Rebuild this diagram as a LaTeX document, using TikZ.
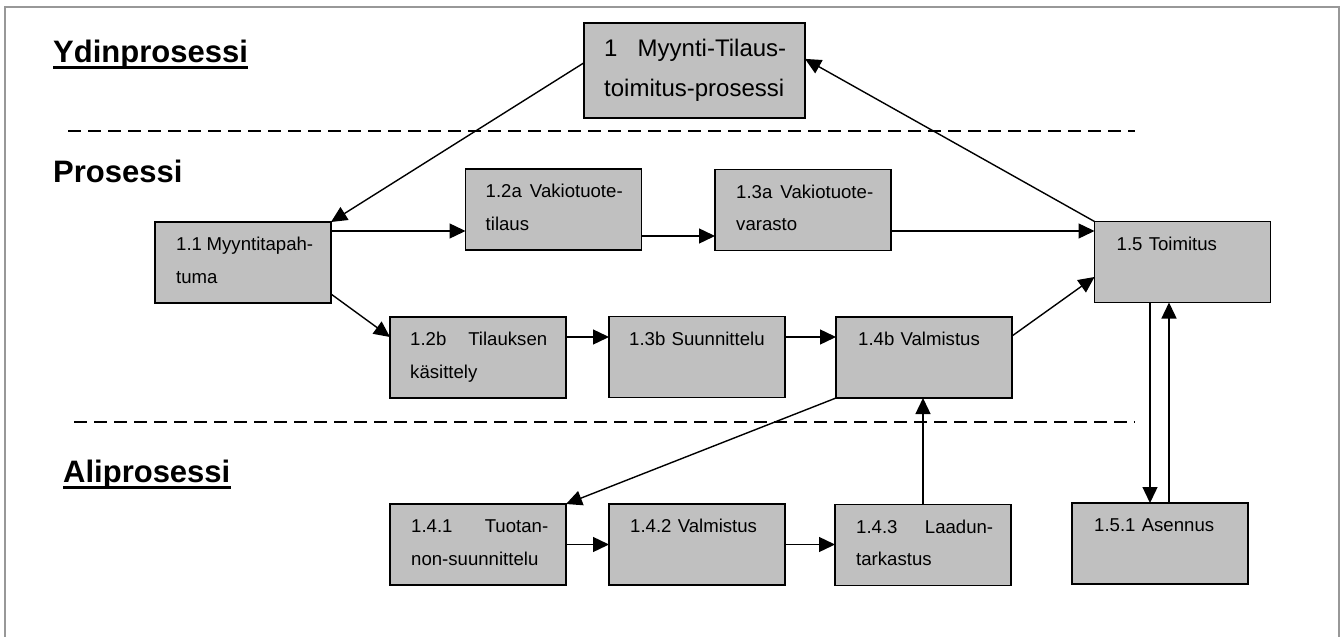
\documentclass[tikz,border=0pt]{standalone}
\usepackage{fontspec}
\setmainfont{Liberation Sans}
\usetikzlibrary{arrows.meta,calc}
\definecolor{boxfill}{HTML}{C0C0C0}
\definecolor{framegray}{HTML}{989898}

\tikzset{
  pbox/.style={draw=black, line width=1.8pt, fill=boxfill,
    minimum width=176pt, minimum height=81pt, inner sep=0pt, outer sep=0pt},
  bigbox/.style={pbox, minimum width=221pt, minimum height=95pt},
  ptext/.style={anchor=base west, inner sep=0pt, text width=137pt, align=left,
    font=\fontsize{18.6}{32.5}\selectfont},
  bigtext/.style={ptext, text width=182pt, font=\fontsize{24}{40}\selectfont},
  arr/.style={line width=1.4pt, -{Triangle[length=16pt,width=15pt]}},
  sepline/.style={line width=1.8pt, dash pattern=on 13pt off 7pt},
  heading/.style={anchor=base west, inner sep=0pt,
    font=\fontsize{31}{36}\selectfont\bfseries},
  uline/.style={line width=3pt},
}

\begin{document}
\begin{tikzpicture}[x=1pt,y=-1pt]
\useasboundingbox (0,0) rectangle (1342,637);

% outer frame (open at the bottom)
\draw[framegray, line width=2pt] (5,640) -- (5,7) -- (1339,7) -- (1339,640);

% level separators
\draw[sepline] (68,131) -- (1135,131);
\draw[sepline] (74,422) -- (1135,422);

% level headings
\node[heading] (h1) at (53,62) {Ydinprosessi};
\draw[uline] ([yshift=-5pt]h1.base west) -- ([yshift=-5pt]h1.base east);
\node[heading] (h2) at (53,182) {Prosessi};
\node[heading] (h3) at (63,482) {Aliprosessi};
\draw[uline] ([yshift=-5pt]h3.base west) -- ([yshift=-5pt]h3.base east);

% process boxes
\node[bigbox] (b1)   at (694.5,70.5) {};
\node[pbox]   (b11)  at (243,262.5) {};
\node[pbox]   (b12a) at (553.5,209.5) {};
\node[pbox]   (b13a) at (803,210) {};
\node[pbox]   (b15)  at (1182.5,262) {};
\node[pbox]   (b12b) at (478,357.5) {};
\node[pbox]   (b13b) at (697,357) {};
\node[pbox]   (b14b) at (924,357.5) {};
\node[pbox]   (b141) at (478,544.5) {};
\node[pbox]   (b142) at (697,544.5) {};
\node[pbox]   (b143) at (923,545) {};
\node[pbox]   (b151) at (1160,543.5) {};

% box texts
\node[bigtext] (t1) at ($(b1.north west)+(20,33)$) {1\hfill Myynti-Tilaus-\\toimitus-prosessi};
\node[ptext] (t11)  at ($(b11.north west)+(21,28.5)$)  {1.1\hfill Myyntitapah-\\tuma};
\node[ptext] (t12a) at ($(b12a.north west)+(20,28.5)$) {1.2a\hfill Vakiotuote-\\tilaus};
\node[ptext] (t13a) at ($(b13a.north west)+(21,28.5)$) {1.3a\hfill Vakiotuote-\\varasto};
\node[ptext] (t15)  at ($(b15.north west)+(22,28.5)$)  {1.5 Toimitus};
\node[ptext] (t12b) at ($(b12b.north west)+(20,28.5)$) {1.2b\hfill Tilauksen\\käsittely};
\node[ptext] (t13b) at ($(b13b.north west)+(20,28.5)$) {1.3b Suunnittelu};
\node[ptext] (t14b) at ($(b14b.north west)+(22,28.5)$) {1.4b Valmistus};
\node[ptext] (t141) at ($(b141.north west)+(21,28.5)$) {1.4.1\hfill Tuotan-\\non-suunnittelu};
\node[ptext] (t142) at ($(b142.north west)+(21,28.5)$) {1.4.2 Valmistus};
\node[ptext] (t143) at ($(b143.north west)+(21,28.5)$) {1.4.3\hfill Laadun-\\tarkastus};
\node[ptext] (t151) at ($(b151.north west)+(22,28.5)$) {1.5.1 Asennus};

% connectors
\draw[arr] (b1.176) -- (b11.north east);
\draw[arr] (b15.north west) -- (b1.6);

\coordinate (c1) at ([yshift=31.5pt]b11.east);
\draw[arr] (c1) -- (c1 -| b12a.west);
\coordinate (c2) at ([yshift=-26.5pt]b12a.east);
\draw[arr] (c2) -- (c2 -| b13a.west);
\coordinate (c3) at ([yshift=-21pt]b13a.east);
\draw[arr] (c3) -- (c3 -| b15.west);

\draw[arr] ([yshift=-31.5pt]b11.east) -- ([yshift=20.5pt]b12b.west);
\coordinate (c4) at ([yshift=20.5pt]b12b.east);
\draw[arr] (c4) -- (c4 -| b13b.west);
\coordinate (c5) at ([yshift=20pt]b13b.east);
\draw[arr] (c5) -- (c5 -| b14b.west);
\draw[arr] ([yshift=21.5pt]b14b.east) -- ([yshift=-15pt]b15.west);

\draw[arr] (b14b.south west) -- (b141.north east);
\draw[arr] (b141.east) -- (b141.east -| b142.west);
\draw[arr] (b142.east) -- (b142.east -| b143.west);
\draw[arr] (b143.north) -- (b143.north |- b14b.south);

\coordinate (c6) at ([xshift=-10pt]b151.north);
\draw[arr] (c6 |- b15.south) -- (c6);
\coordinate (c7) at ([xshift=9pt]b151.north);
\draw[arr] (c7) -- (c7 |- b15.south);
\end{tikzpicture}
\end{document}
